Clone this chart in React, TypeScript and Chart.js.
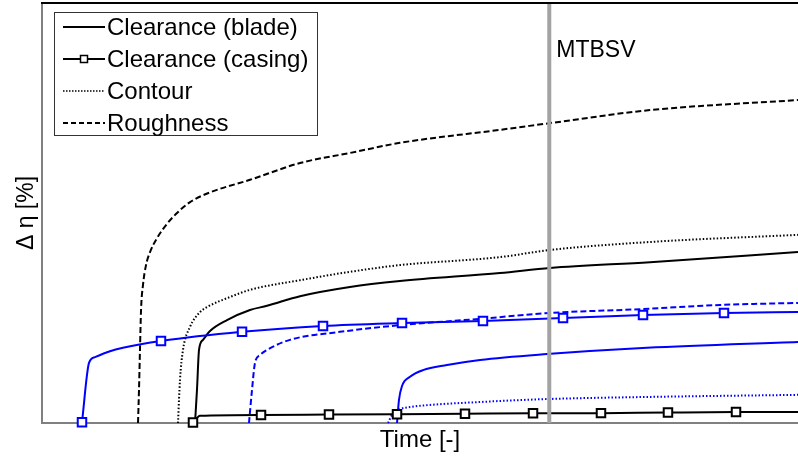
import React, { useEffect, useRef } from "react";
import { Chart, registerables } from "chart.js";

Chart.register(...registerables);

// Time axis: 0..100 (arbitrary units), Δη axis: 0..100 (arbitrary units)
const MTBSV_TIME = 67.1;

// Black series
const blackBladeT = [20.24, 20.5, 20.77, 21.3, 22.22, 24.47, 27.51, 29.76, 34.13, 40.74, 47.35, 60.58, 67.2, 80.42, 100];
const blackBladeD = [0, 7.9, 17.4, 19.8, 21.9, 24.5, 26.9, 27.9, 30.2, 32.4, 33.8, 35.7, 36.9, 38.3, 40.7];

const blackCasingT = [19.97, 20.9, 28.97, 37.96, 46.96, 55.95, 64.95, 73.94, 82.8, 91.8, 100];
const blackCasingD = [0.1, 1.7, 1.9, 2.0, 2.1, 2.2, 2.3, 2.35, 2.5, 2.6, 2.6];
const blackCasingMarks = [1, 0, 1, 1, 1, 1, 1, 1, 1, 1, 0];

const blackContourT = [17.99, 18.25, 18.65, 19.58, 20.9, 21.83, 24.87, 27.51, 34.13, 40.74, 47.35, 60.58, 67.2, 80.42, 100];
const blackContourD = [0, 10.2, 17.4, 22.9, 26.4, 27.6, 30.0, 31.7, 34.0, 36.0, 37.6, 39.5, 41.2, 43.1, 44.8];

const blackRoughT = [12.7, 12.83, 12.96, 13.1, 13.36, 13.76, 14.29, 15.21, 16.53, 17.86, 19.58, 22.22, 27.51, 34.13, 40.74, 47.35, 60.58, 67.2, 80.42, 100];
const blackRoughD = [0, 7.9, 17.4, 26.9, 32.9, 37.6, 40.7, 44.0, 47.4, 50.0, 52.6, 54.9, 57.9, 61.9, 64.3, 66.7, 69.8, 71.4, 74.5, 76.9];

// Blue series
const blueBladeT = [46.96, 47.22, 47.62, 48.68, 50.4, 53.57, 57.94, 66.8, 80.03, 100];
const blueBladeD = [0, 5.5, 8.8, 11.0, 12.6, 13.8, 15.0, 16.4, 17.9, 19.3];

const blueCasingT = [5.29, 6.22, 7.01, 8.99, 10.71, 15.74, 26.46, 37.17, 47.62, 58.33, 68.92, 79.5, 90.21, 100];
const blueCasingD = [0.2, 14.3, 15.7, 17.1, 17.9, 19.5, 21.7, 23.1, 23.8, 24.3, 25.0, 25.7, 26.2, 26.4];
const blueCasingMarks = [1, 0, 0, 0, 0, 1, 1, 1, 1, 1, 1, 1, 1, 0];

const blueContourT = [45.77, 46.3, 47.35, 48.68, 51.32, 57.94, 66.8, 80.03, 100];
const blueContourD = [0, 1.9, 3.3, 3.8, 4.3, 5.0, 5.7, 6.2, 6.7];

const blueRoughT = [27.38, 27.78, 28.17, 28.84, 29.76, 32.8, 39.42, 47.35, 57.94, 67.2, 79.1, 89.68, 100];
const blueRoughD = [0, 7.9, 14.3, 16.2, 17.4, 19.8, 21.7, 23.3, 24.8, 26.2, 27.1, 28.1, 28.6];

const legendLabels = ["Clearance (blade)", "Clearance (casing)", "Contour", "Roughness"];
const xTitle = "Time [-]";
const yTitle = "\u0394 \u03b7 [%]";
const markerLabel = "MTBSV";

const zip = (t: number[], d: number[]) => t.map((x, i) => ({ x, y: d[i] }));

const FONT = "'Liberation Sans', Arial, sans-serif";
const BLACK = "#000000";
const BLUE = "#0000ff";
const DOT = [1.5, 2];
const DASH = [6, 3];

const overlayPlugin = {
  id: "overlay",
  afterDraw(chart: any) {
    const { ctx, chartArea, scales } = chart;
    ctx.save();
    // top frame line
    ctx.strokeStyle = "#000";
    ctx.lineWidth = 2;
    ctx.beginPath();
    ctx.moveTo(chartArea.left - 1, chartArea.top);
    ctx.lineTo(chartArea.right, chartArea.top);
    ctx.stroke();

    // MTBSV label
    const xm = scales.x.getPixelForValue(MTBSV_TIME);
    ctx.fillStyle = "#000";
    ctx.font = `23px ${FONT}`;
    ctx.textBaseline = "middle";
    ctx.textAlign = "left";
    ctx.fillText(markerLabel, xm + 7, 51);

    // legend box
    const bx = 54, by = 12, bw = 263, bh = 123;
    ctx.fillStyle = "#fff";
    ctx.fillRect(bx, by, bw, bh);
    ctx.strokeStyle = "#333";
    ctx.lineWidth = 1;
    ctx.strokeRect(bx + 0.5, by + 0.5, bw, bh);
    const rows = [27, 59, 91, 123];
    legendLabels.forEach((lab, i) => {
      const y = rows[i];
      ctx.strokeStyle = "#000";
      ctx.lineWidth = i === 2 ? 1.5 : 2;
      ctx.setLineDash(i === 2 ? [1.5, 1.5] : i === 3 ? [5, 3] : []);
      ctx.beginPath();
      ctx.moveTo(63, y);
      ctx.lineTo(105, y);
      ctx.stroke();
      ctx.setLineDash([]);
      if (i === 1) {
        ctx.fillStyle = "#fff";
        ctx.fillRect(80.5, y - 3.5, 7, 7);
        ctx.lineWidth = 1.5;
        ctx.strokeRect(80.5, y - 3.5, 7, 7);
      }
      ctx.fillStyle = "#000";
      ctx.font = `24px ${FONT}`;
      ctx.textBaseline = "middle";
      ctx.fillText(lab, 107, y + 1);
    });
    ctx.restore();
  },
};

const lineDs = (data: any[], color: string, dash: number[], width = 2, marks?: number[]) => ({
  data,
  borderColor: color,
  borderWidth: width,
  borderDash: dash,
  pointRadius: marks ? marks.map((m) => (m ? 6 : 0)) : 0,
  pointStyle: "rect",
  pointBackgroundColor: "#ffffff",
  pointBorderColor: color,
  pointBorderWidth: 2,
  cubicInterpolationMode: "monotone",
  fill: false,
  clip: false,
});

export default function App() {
  const ref = useRef<HTMLCanvasElement | null>(null);
  useEffect(() => {
    if (!ref.current) return;
    const chart = new Chart(ref.current, {
      type: "line",
      data: {
        datasets: [
          {
            data: [{ x: MTBSV_TIME, y: 0 }, { x: MTBSV_TIME, y: 100 }],
            borderColor: "#a3a3a3",
            borderWidth: 4,
            pointRadius: 0,
            clip: false,
          } as any,
          lineDs(zip(blackCasingT, blackCasingD), BLACK, [], 2, blackCasingMarks),
          lineDs(zip(blueCasingT, blueCasingD), BLUE, [], 2, blueCasingMarks),
          lineDs(zip(blackBladeT, blackBladeD), BLACK, []),
          lineDs(zip(blackContourT, blackContourD), BLACK, DOT),
          lineDs(zip(blackRoughT, blackRoughD), BLACK, DASH),
          lineDs(zip(blueBladeT, blueBladeD), BLUE, []),
          lineDs(zip(blueContourT, blueContourD), BLUE, DOT),
          lineDs(zip(blueRoughT, blueRoughD), BLUE, DASH),
        ],
      },
      options: {
        responsive: false,
        animation: false,
        layout: { autoPadding: false, padding: { top: 3, right: 0, left: 0, bottom: 0 } },
        plugins: { legend: { display: false }, tooltip: { enabled: false } },
        scales: {
          x: {
            type: "linear",
            min: 0,
            max: 100,
            ticks: { display: false },
            grid: { display: false },
            border: { display: true, color: "#808080", width: 2 },
            title: {
              display: true,
              text: xTitle,
              color: "#000",
              font: { family: FONT, size: 24 },
              padding: { top: 0, bottom: 2 },
            },
            afterFit: (s: any) => {
              s.height = 34;
            },
          },
          y: {
            type: "linear",
            min: 0,
            max: 100,
            ticks: { display: false },
            grid: { display: false },
            border: { display: true, color: "#808080", width: 2 },
            title: {
              display: true,
              text: yTitle,
              color: "#000",
              font: { family: FONT, size: 23 },
              padding: { top: 13, bottom: 0 },
            },
            afterFit: (s: any) => {
              s.width = 42;
            },
          },
        },
      } as any,
      plugins: [overlayPlugin],
    });
    return () => chart.destroy();
  }, []);
  return (
    <div style={{ position: "absolute", left: 0, top: 0, width: 798, height: 457, background: "#fff", overflow: "hidden" }}>
      <canvas ref={ref} width={798} height={457} style={{ display: "block" }} />
    </div>
  );
}
